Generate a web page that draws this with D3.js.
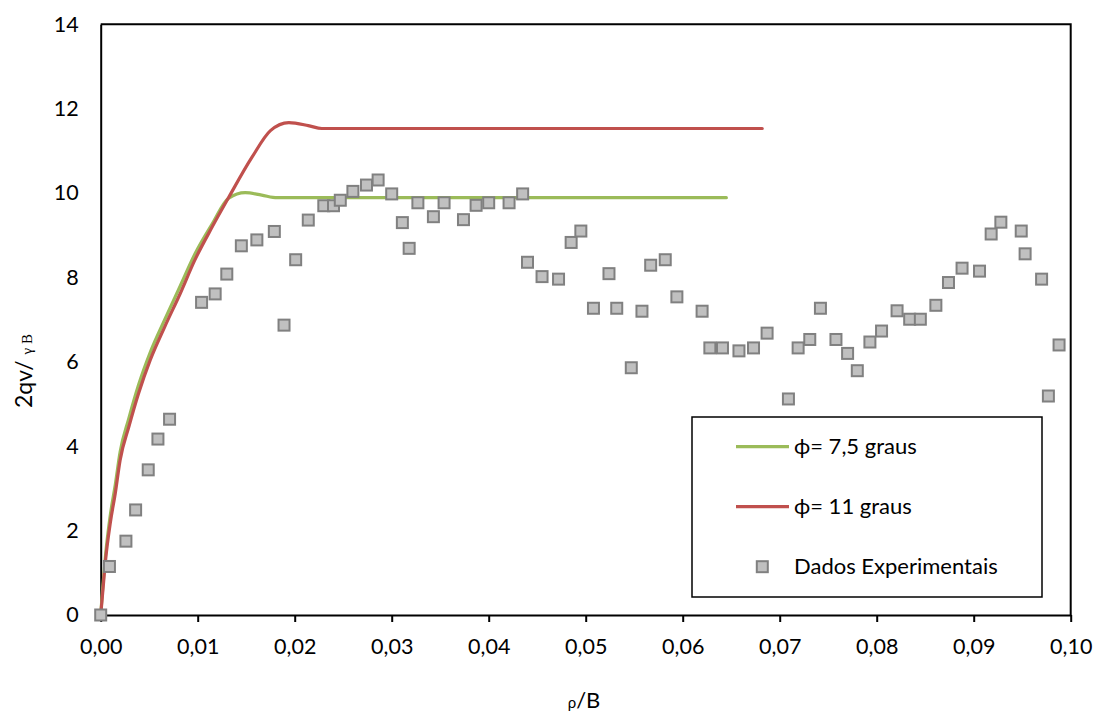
<!DOCTYPE html>
<html>
<head>
<meta charset="utf-8">
<script src="https://cdn.jsdelivr.net/npm/d3@7"></script>
<style>
  html, body { margin: 0; padding: 0; background: #fff; }
  svg { display: block; }
  text { font-family: Lato, "Open Sans", sans-serif; fill: #000; }
</style>
</head>
<body>
<svg id="chart" width="1096" height="713"></svg>
<script>
// Experimental points (rho/B, 2qv/(gamma B))
const expX = [0.0000, 0.0009, 0.0026, 0.0036, 0.0049, 0.0059, 0.0071, 0.0104, 0.0118, 0.0130,
              0.0145, 0.0161, 0.0179, 0.0189, 0.0201, 0.0214, 0.0230, 0.0240, 0.0247, 0.0260,
              0.0274, 0.0286, 0.0300, 0.0311, 0.0318, 0.0327, 0.0343, 0.0354, 0.0374, 0.0387,
              0.0400, 0.0421, 0.0435, 0.0440, 0.0455, 0.0472, 0.0485, 0.0495, 0.0508, 0.0524,
              0.0532, 0.0547, 0.0558, 0.0567, 0.0582, 0.0594, 0.0620, 0.0628, 0.0641, 0.0658,
              0.0673, 0.0687, 0.0709, 0.0719, 0.0731, 0.0742, 0.0758, 0.0770, 0.0780, 0.0793,
              0.0805, 0.0821, 0.0834, 0.0845, 0.0861, 0.0874, 0.0888, 0.0906, 0.0918, 0.0928,
              0.0949, 0.0953, 0.0970, 0.0977, 0.0988];
const expY = [0.00, 1.15, 1.75, 2.49, 3.44, 4.17, 4.64, 7.41, 7.61, 8.08,
              8.75, 8.89, 9.09, 6.87, 8.42, 9.36, 9.70, 9.70, 9.83, 10.04,
              10.19, 10.31, 9.98, 9.30, 8.69, 9.77, 9.44, 9.77, 9.37, 9.71,
              9.77, 9.77, 9.98, 8.36, 8.02, 7.96, 8.83, 9.10, 7.27, 8.09,
              7.27, 5.86, 7.20, 8.29, 8.42, 7.54, 7.20, 6.33, 6.33, 6.26,
              6.33, 6.68, 5.12, 6.33, 6.53, 7.27, 6.53, 6.20, 5.79, 6.47,
              6.73, 7.21, 7.01, 7.01, 7.34, 7.88, 8.22, 8.15, 9.03, 9.31,
              9.10, 8.56, 7.96, 5.19, 6.40];

// Model curve, phi = 7.5 degrees
const phi75X = [0, 0.0002, 0.0005, 0.0010, 0.0015, 0.0020, 0.0029, 0.0039, 0.0051, 0.0066,
                0.0082, 0.0097, 0.0115, 0.0132, 0.0149, 0.0166, 0.0182, 0.0645];
const phi75Y = [0, 0.62, 1.42, 2.38, 3.08, 3.86, 4.66, 5.45, 6.22, 7.00,
                7.80, 8.55, 9.27, 9.88, 10.01, 9.95, 9.89, 9.89];

// Model curve, phi = 11 degrees
const phi11X = [0, 0.0002, 0.0005, 0.0010, 0.0015, 0.0020, 0.0029, 0.0039, 0.0051, 0.0066,
                0.0082, 0.0097, 0.0115, 0.0132, 0.0156, 0.0175, 0.0194, 0.0214, 0.0228, 0.0682];
const phi11Y = [0, 0.52, 1.30, 2.20, 2.88, 3.67, 4.46, 5.25, 6.04, 6.83,
                7.62, 8.41, 9.20, 9.90, 10.85, 11.48, 11.67, 11.60, 11.53, 11.53];

const xTicks = [0, 0.01, 0.02, 0.03, 0.04, 0.05, 0.06, 0.07, 0.08, 0.09, 0.10];
const yTicks = [0, 2, 4, 6, 8, 10, 12, 14];
const seriesNames = ["\u03D5= 7,5 graus", "\u03D5= 11 graus", "Dados Experimentais"];

const GREEN = "#9BBB59", RED = "#C0504D";
const FS = 21.5;
const svg = d3.select("#chart");

const x = d3.scaleLinear().domain([0, 0.1]).range([100.7, 1070.7]);
const y = d3.scaleLinear().domain([0, 14]).range([615, 24.3]);

const fmtX = v => d3.format(".2f")(v).replace(".", ",");

// plot frame (top and right edges)
svg.append("path")
  .attr("d", `M${x(0)},${y(14)}H${x(0.1)}V${y(0)}`)
  .attr("fill", "none").attr("stroke", "#000").attr("stroke-width", 2);

// x axis
const xAxis = svg.append("g").attr("transform", `translate(0,${y(0)})`)
  .call(d3.axisBottom(x).tickValues(xTicks).tickFormat(fmtX).tickSize(7).tickSizeOuter(0).tickPadding(17));
xAxis.select(".domain").attr("stroke", "#000").attr("stroke-width", 2);
xAxis.selectAll(".tick line").attr("stroke", "#000").attr("stroke-width", 2);
xAxis.selectAll(".tick text").attr("font-size", FS).attr("font-family", "Lato").attr("fill", "#000");

// y axis
const yAxis = svg.append("g").attr("transform", `translate(${x(0)},0)`)
  .call(d3.axisLeft(y).tickValues(yTicks).tickFormat(d3.format("d")).tickSize(0).tickSizeOuter(0).tickPadding(22));
yAxis.select(".domain").attr("stroke", "#000").attr("stroke-width", 2);
yAxis.selectAll(".tick text").attr("font-size", FS).attr("font-family", "Lato").attr("fill", "#000");

// model curves
const line = d3.line().x(d => x(d[0])).y(d => y(d[1])).curve(d3.curveMonotoneX);
const curves = [
  { xs: phi75X, ys: phi75Y, color: GREEN },
  { xs: phi11X, ys: phi11Y, color: RED }
];
curves.forEach(c => {
  svg.append("path")
    .datum(c.xs.map((v, i) => [v, c.ys[i]]))
    .attr("d", line)
    .attr("fill", "none")
    .attr("stroke", c.color)
    .attr("stroke-width", 3.2)
    .attr("stroke-linecap", "round")
    .attr("stroke-linejoin", "round");
});

// experimental markers
const S = 11;
svg.append("g").selectAll("rect")
  .data(expX.map((v, i) => [v, expY[i]]))
  .join("rect")
  .attr("x", d => x(d[0]) - S / 2)
  .attr("y", d => y(d[1]) - S / 2)
  .attr("width", S).attr("height", S)
  .attr("fill", "#C0C0C0")
  .attr("stroke", "#808080")
  .attr("stroke-width", 2);

// axis titles
svg.append("text")
  .attr("x", 584).attr("y", 708)
  .attr("text-anchor", "middle")
  .call(t => {
    t.append("tspan").attr("font-size", 15).text("\u03C1");
    t.append("tspan").attr("font-size", 22).text("/B");
  });

svg.append("text")
  .attr("transform", "translate(32,408) rotate(-90)")
  .attr("text-anchor", "start")
  .call(t => {
    t.append("tspan").attr("font-size", 23).text("2qv/ ");
    t.append("tspan").attr("font-size", 15).attr("font-family", "'Liberation Serif', serif").text("\u03B3 B");
  });

// legend
const lg = svg.append("g");
lg.append("rect")
  .attr("x", 692).attr("y", 417).attr("width", 350).attr("height", 180)
  .attr("fill", "#fff").attr("stroke", "#000").attr("stroke-width", 1.5);
const rows = [446.7, 506.7, 566.7];
[GREEN, RED].forEach((c, i) => {
  lg.append("line")
    .attr("x1", 736).attr("x2", 789).attr("y1", rows[i]).attr("y2", rows[i])
    .attr("stroke", c).attr("stroke-width", 3.2);
});
lg.append("rect")
  .attr("x", 762.3 - S / 2).attr("y", rows[2] - S / 2).attr("width", S).attr("height", S)
  .attr("fill", "#C0C0C0").attr("stroke", "#808080").attr("stroke-width", 2);
seriesNames.forEach((n, i) => {
  lg.append("text")
    .attr("x", 794).attr("y", rows[i] + 7.5)
    .attr("font-size", 22)
    .text(n);
});
</script>
</body>
</html>
